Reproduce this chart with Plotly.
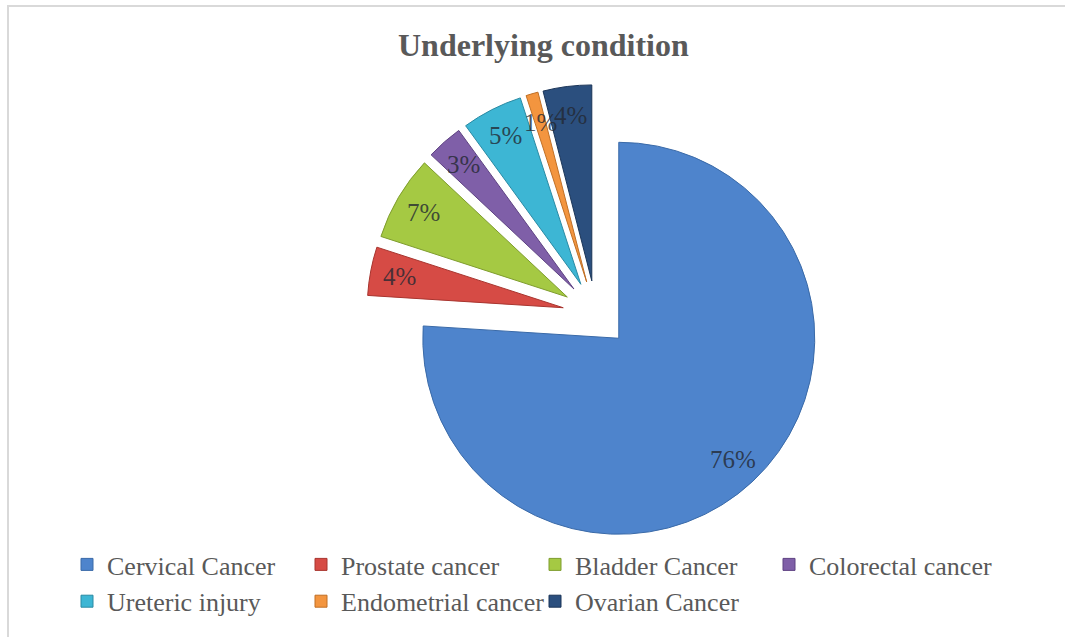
import math
import plotly.graph_objects as go

# ---- data ----
categories = ["Cervical Cancer", "Prostate cancer", "Bladder Cancer", "Colorectal cancer",
              "Ureteric injury", "Endometrial cancer", "Ovarian Cancer"]
values = [76, 4, 7, 3, 5, 1, 4]
colors = ["#4e84cc", "#d64b45", "#a5c943", "#7f5fa8", "#3db6d4", "#f3953f", "#2b4f7e"]
edge_colors = ["#3a6aa8", "#a8352f", "#7f9d2e", "#5e4282", "#2a8aa3", "#c06f25", "#1b3558"]

W, H = 1065, 637
PULL = 0.17
dom_x = [0.3443, 0.7749]
dom_y = [0.1471, 0.8671]

fig = go.Figure()
fig.add_trace(go.Pie(
    labels=categories,
    values=values,
    sort=False,
    direction="clockwise",
    rotation=0,
    pull=[PULL] * len(values),
    marker=dict(colors=colors, line=dict(color=edge_colors, width=1)),
    textinfo="none",
    hoverinfo="label+percent",
    domain=dict(x=dom_x, y=dom_y),
))

# percent labels placed from the pie geometry (same as plotly's pie sizing)
box_w = W * (dom_x[1] - dom_x[0])
box_h = H * (dom_y[1] - dom_y[0])
r = min(box_w, box_h) / 2 / (1 + PULL)
cx = W * (dom_x[0] + dom_x[1]) / 2
cy = H * (1 - (dom_y[0] + dom_y[1]) / 2)
total = sum(values)
cum = 0
annotations = []
for v in values:
    mid = (cum + v / 2) / total * 2 * math.pi
    cum += v
    dx, dy = math.sin(mid), -math.cos(mid)
    f = PULL + 0.85
    px = cx + f * r * dx
    py = cy + f * r * dy
    annotations.append(dict(
        x=px / W, y=1 - py / H, xref="paper", yref="paper",
        text=f"{round(v / total * 100)}%", showarrow=False,
        font=dict(family="Liberation Serif", size=25, color="rgba(35,40,50,0.8)"),
        xanchor="center", yanchor="middle",
    ))

annotations.append(dict(
    x=543 / W, y=1 - 45 / H, xref="paper", yref="paper",
    text="<b>Underlying condition</b>", showarrow=False,
    font=dict(family="Liberation Serif", size=32, color="#595959"),
    xanchor="center", yanchor="middle",
))

fig.update_layout(
    width=W, height=H,
    margin=dict(l=0, r=0, t=0, b=0, autoexpand=False),
    paper_bgcolor="white",
    plot_bgcolor="white",
    showlegend=True,
    legend=dict(
        orientation="h",
        x=67 / W, xanchor="left",
        y=1 - 541 / H, yanchor="top",
        entrywidth=189, entrywidthmode="pixels",
        font=dict(family="Liberation Serif", size=26, color="#595959"),
        traceorder="normal",
    ),
    annotations=annotations,
    shapes=[dict(type="rect", xref="paper", yref="paper",
                 x0=8 / W, y0=-0.05, x1=1.05, y1=1 - 6 / H,
                 line=dict(color="#d9d9d9", width=2))],
)

fig.write_html("out.html")
